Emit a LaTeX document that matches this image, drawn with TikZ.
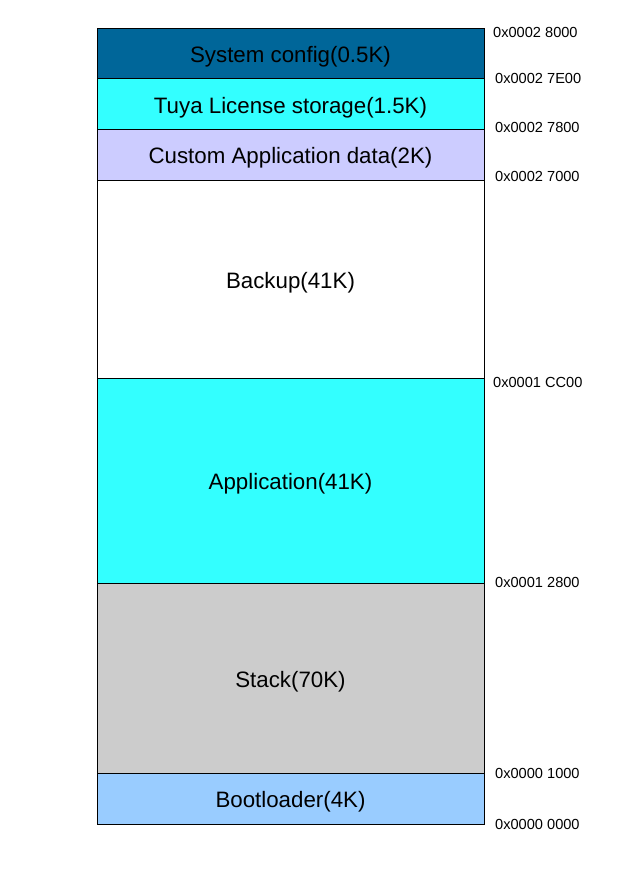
\documentclass[tikz,border=0pt]{standalone}
\usepackage{fontspec}
\setmainfont{Liberation Sans}
\definecolor{sysblue}{HTML}{006699}
\definecolor{cyanfill}{HTML}{33FFFF}
\definecolor{lavender}{HTML}{CCCCFF}
\definecolor{stackgray}{HTML}{CCCCCC}
\definecolor{bootblue}{HTML}{99CCFF}
\begin{document}
\begin{tikzpicture}[x=1pt,y=1pt,
  region/.style={draw=black, line width=0.8pt, rectangle, minimum width=387pt,
    inner sep=0pt, outer sep=0pt, anchor=north, text height=18pt, text depth=0pt,
    font=\fontsize{22.3}{25}\selectfont},
  addr/.style={anchor=west, inner sep=0pt, font=\fontsize{14.6}{16}\selectfont}]
\useasboundingbox (0,0) rectangle (633,-886);
\node[region, fill=sysblue, minimum height=50.5pt] (sys) at (290.5,-28) {System config(0.5K)};
\node[region, fill=cyanfill, minimum height=51pt] (tuya) at (290.5,-78.5) {Tuya License storage(1.5K)};
\node[region, fill=lavender, minimum height=50.5pt] (cust) at (290.5,-129.5) {Custom Application data(2K)};
\node[region, fill=white, minimum height=198pt] (backup) at (290.5,-180) {Backup(41K)};
\node[region, fill=cyanfill, minimum height=205pt] (app) at (290.5,-378) {Application(41K)};
\node[region, fill=stackgray, minimum height=190pt] (stack) at (290.5,-583) {Stack(70K)};
\node[region, fill=bootblue, minimum height=51pt] (boot) at (290.5,-773) {Bootloader(4K)};
\node[addr] (a1) at (493,-32.5) {0x0002 8000};
\node[addr] (a2) at (495,-78.5) {0x0002 7E00};
\node[addr] (a3) at (495,-127.5) {0x0002 7800};
\node[addr] (a4) at (495,-176.5) {0x0002 7000};
\node[addr] (a5) at (493,-382.5) {0x0001 CC00};
\node[addr] (a6) at (495,-582.5) {0x0001 2800};
\node[addr] (a7) at (495,-773.5) {0x0000 1000};
\node[addr] (a8) at (495,-824.5) {0x0000 0000};
\end{tikzpicture}
\end{document}
